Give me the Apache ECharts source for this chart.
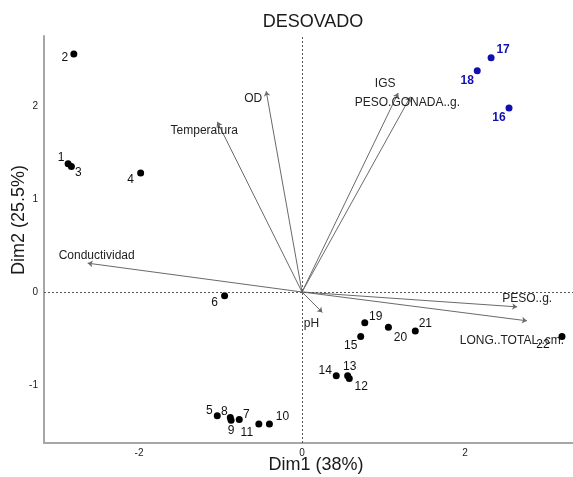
<!DOCTYPE html>
<html><head><meta charset="utf-8">
<script src="https://cdn.jsdelivr.net/npm/echarts@6/dist/echarts.min.js"></script>
<style>html,body{margin:0;padding:0;background:#fff}#c{width:573px;height:477px}</style>
</head><body><div id="c"></div>
<script>
// Individuals (black group)
const indNames = ['1','2','3','4','5','6','7','8','9','10','11','12','13','14','15','19','20','21','22'];
const indX = [-2.87,-2.80,-2.83,-1.98,-1.04,-0.95,-0.77,-0.88,-0.87,-0.40,-0.53,0.58,0.56,0.42,0.72,0.77,1.06,1.39,3.19];
const indY = [1.38,2.56,1.35,1.28,-1.33,-0.04,-1.37,-1.35,-1.38,-1.42,-1.42,-0.93,-0.90,-0.90,-0.48,-0.33,-0.38,-0.42,-0.48];
// Individuals (blue group)
const blueNames = ['16','17','18'];
const blueX = [2.54,2.32,2.15];
const blueY = [1.98,2.52,2.38];
// Variables (arrows)
const varNames = ['OD','Temperatura','IGS','PESO.GONADA..g.','Conductividad','PESO..g.','LONG..TOTAL..cm.','pH'];
const varX = [-0.44,-1.04,1.18,1.33,-2.63,2.64,2.76,0.25];
const varY = [2.16,1.83,2.14,2.10,0.31,-0.16,-0.31,-0.22];
// Tick labels
const xTicks = [-2,0,2];
const yTicks = [-1,0,1,2];

// label offsets (style only)
const indLabelOffset = {
  '1':[-7,-6],'2':[-9,4],'3':[7,6],'4':[-10,7],'5':[-8,-5],'6':[-10,7],'7':[7,-5],'8':[-6,-6],
  '9':[0,10],'10':[13,-7],'11':[-12,9],'12':[12,8],'13':[2,-9],'14':[-11,-5],'15':[-10,9],
  '19':[11,-6],'20':[12,10],'21':[10,-7],'22':[-19,8]
};
const blueLabelOffset = {'16':[-10,10],'17':[12,-8],'18':[-10,10]};
const varLabelOffset = {
  'OD':[-13,8],'Temperatura':[-13,9],'IGS':[-13,-9],'PESO.GONADA..g.':[-3,6],
  'Conductividad':[9,-7],'PESO..g.':[10,-8],'LONG..TOTAL..cm.':[-15,20],'pH':[-11,11]
};

const chart = echarts.init(document.getElementById('c'), null, {renderer:'canvas'});
const FONT = '"Liberation Sans", Arial, sans-serif';

const indData = indNames.map((n,i)=>({name:n,value:[indX[i],indY[i]],label:{offset:indLabelOffset[n]}}));
const blueData = blueNames.map((n,i)=>({name:n,value:[blueX[i],blueY[i]],label:{offset:blueLabelOffset[n]}}));
const arrowData = varNames.map((n,i)=>({coords:[[0,0],[varX[i],varY[i]]]}));
const varLabelData = varNames.map((n,i)=>({name:n,value:[varX[i],varY[i]],label:{offset:varLabelOffset[n]}}));

chart.setOption({
  animation:false,
  backgroundColor:'#fff',
  grid:{left:44,top:36,right:0,bottom:34,containLabel:false},
  xAxis:{type:'value',min:-3.166,max:3.325,
    axisLine:{show:true,onZero:false,lineStyle:{color:'#a6a6a6',width:2}},
    axisTick:{show:false},
    splitLine:{show:false},
    axisLabel:{customValues:xTicks,color:'#222',fontSize:10,fontFamily:FONT,margin:5,formatter:v=>String(v)}},
  yAxis:{type:'value',min:-1.624,max:2.753,
    axisLine:{show:true,onZero:false,lineStyle:{color:'#a6a6a6',width:2}},
    axisTick:{show:false},
    splitLine:{show:false},
    axisLabel:{customValues:yTicks,color:'#222',fontSize:10,fontFamily:FONT,margin:6,formatter:v=>String(v)}},
  graphic:[
    {type:'text',style:{text:'DESOVADO',font:'18px '+FONT,fill:'#1a1a1a',textAlign:'center',textVerticalAlign:'middle'},x:313,y:22,silent:true},
    {type:'text',style:{text:'Dim1 (38%)',font:'18px '+FONT,fill:'#1a1a1a',textAlign:'center',textVerticalAlign:'middle'},x:316,y:465,silent:true},
    {type:'text',style:{text:'Dim2 (25.5%)',font:'18px '+FONT,fill:'#1a1a1a',textAlign:'center',textVerticalAlign:'middle'},x:19,y:220,rotation:Math.PI/2,silent:true}
  ],
  series:[
    {type:'lines',coordinateSystem:'cartesian2d',data:arrowData,z:2,
      symbol:['none','arrow'],symbolSize:5,
      lineStyle:{color:'#6a6a6a',width:1,opacity:1}},
    {type:'scatter',data:varLabelData,symbol:'circle',symbolSize:1,z:3,
      itemStyle:{color:'rgba(0,0,0,0)',opacity:1},
      label:{show:true,position:'inside',formatter:p=>p.name,color:'#222',fontSize:12,fontFamily:FONT}},
    {type:'scatter',data:indData,symbol:'circle',symbolSize:7,z:4,
      itemStyle:{color:'#000',opacity:1},
      label:{show:true,position:'inside',formatter:p=>p.name,color:'#111',fontSize:12,fontFamily:FONT},
      markLine:{silent:true,symbol:['none','none'],label:{show:false},
        lineStyle:{color:'#555',type:[2,2],width:1},
        data:[{xAxis:0},{yAxis:0}]}},
    {type:'scatter',data:blueData,symbol:'circle',symbolSize:7,z:4,
      itemStyle:{color:'#1010b0',opacity:1},
      label:{show:true,position:'inside',formatter:p=>p.name,color:'#1010b0',fontSize:12,fontWeight:'bold',fontFamily:FONT}}
  ]
});
</script></body></html>
